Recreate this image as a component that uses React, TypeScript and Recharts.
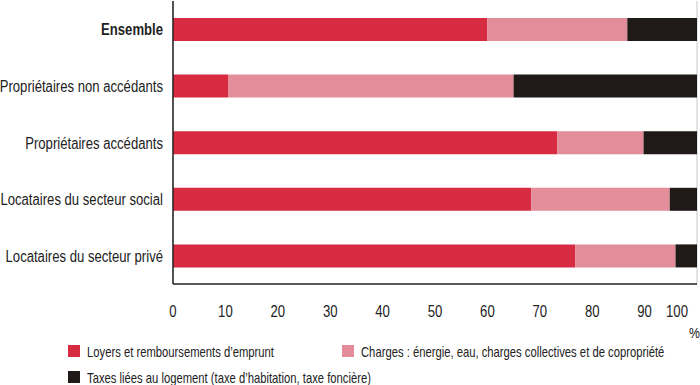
import { BarChart, Bar, XAxis, YAxis, CartesianGrid } from 'recharts';

const categories = [
  'Ensemble',
  'Propriétaires non accédants',
  'Propriétaires accédants',
  'Locataires du secteur social',
  'Locataires du secteur privé',
];
const loyers = [60, 10.5, 73.3, 68.4, 76.8];
const charges = [26.7, 54.5, 16.5, 26.4, 19.1];
const taxes = [13.3, 35, 10.2, 5.2, 4.1];
const xTicks = [0, 10, 20, 30, 40, 50, 60, 70, 80, 90, 100];

const legendItems = [
  { label: 'Loyers et remboursements d’emprunt', color: '#d62b41' },
  { label: 'Charges : énergie, eau, charges collectives et de copropriété', color: '#e38d9b' },
  { label: 'Taxes liées au logement (taxe d’habitation, taxe foncière)', color: '#1f1a17' },
];

const data = categories.map((name, i) => ({
  name,
  loyers: loyers[i],
  charges: charges[i],
  taxes: taxes[i],
}));

// no condensed font available, so Liberation Sans squeezed horizontally
const FONT = '"Liberation Sans", Arial, sans-serif';
const SQUEEZE = 0.82;
const LEGEND_SQUEEZE = 0.75;

function XTick({ x, y, payload }: any) {
  const dx = payload.value === 100 ? -11 : 0;
  return (
    <text
      transform={`translate(${x + dx},${y + 25}) scale(${SQUEEZE},1)`}
      textAnchor="middle"
      fontSize={16}
      fill="#222"
      fontFamily={FONT}
    >
      {payload.value}
    </text>
  );
}

function YTick({ x, y, payload }: any) {
  const bold = payload.value === 'Ensemble';
  return (
    <text
      transform={`translate(${x - 2},${y + 6}) scale(${SQUEEZE},1)`}
      textAnchor="end"
      fontSize={16}
      fontWeight={bold ? 'bold' : 'normal'}
      fill="#222"
      fontFamily={FONT}
    >
      {payload.value}
    </text>
  );
}

export default function App() {
  return (
    <div style={{ position: 'absolute', left: 0, top: 0, width: 700, height: 385, background: '#fff', fontFamily: FONT }}>
      <BarChart
        width={700}
        height={385}
        data={data}
        layout="vertical"
        margin={{ top: 1, right: 3, bottom: 71, left: 0 }}
        barSize={23}
      >
        <CartesianGrid horizontal={false} stroke="#c8c8c8" strokeWidth={1} />
        <XAxis
          xAxisId="top"
          orientation="top"
          type="number"
          domain={[0, 100]}
          height={0}
          tick={false}
          tickLine={false}
          axisLine={{ stroke: '#c4c4c4' }}
        />
        <XAxis
          xAxisId="main"
          type="number"
          domain={[0, 100]}
          ticks={xTicks}
          height={30}
          tickLine={false}
          axisLine={{ stroke: '#222', strokeWidth: 1.5 }}
          tick={<XTick />}
        />
        <YAxis
          type="category"
          dataKey="name"
          width={173}
          tickLine={false}
          axisLine={{ stroke: '#222', strokeWidth: 1.5 }}
          tick={<YTick />}
        />
        <Bar xAxisId="main" dataKey="loyers" stackId="a" fill={legendItems[0].color} isAnimationActive={false} />
        <Bar xAxisId="main" dataKey="charges" stackId="a" fill={legendItems[1].color} isAnimationActive={false} />
        <Bar xAxisId="main" dataKey="taxes" stackId="a" fill={legendItems[2].color} isAnimationActive={false} />
      </BarChart>
      <div style={{ position: 'absolute', left: 689, top: 324, fontSize: 15, color: '#222', transform: `scaleX(${SQUEEZE})`, transformOrigin: 'left' }}>%</div>
      {legendItems.map((item, i) => {
        const left = i === 1 ? 342 : 68;
        const top = i === 2 ? 368 : 342;
        return (
          <div
            key={item.label}
            style={{ position: 'absolute', left, top, height: 18, display: 'flex', alignItems: 'center', fontSize: 15, color: '#222', whiteSpace: 'nowrap' }}
          >
            <span style={{ display: 'inline-block', width: 12, height: 12, background: item.color, marginRight: 7 }} />
            <span style={{ display: 'inline-block', transform: `scaleX(${LEGEND_SQUEEZE})`, transformOrigin: 'left' }}>{item.label}</span>
          </div>
        );
      })}
    </div>
  );
}
